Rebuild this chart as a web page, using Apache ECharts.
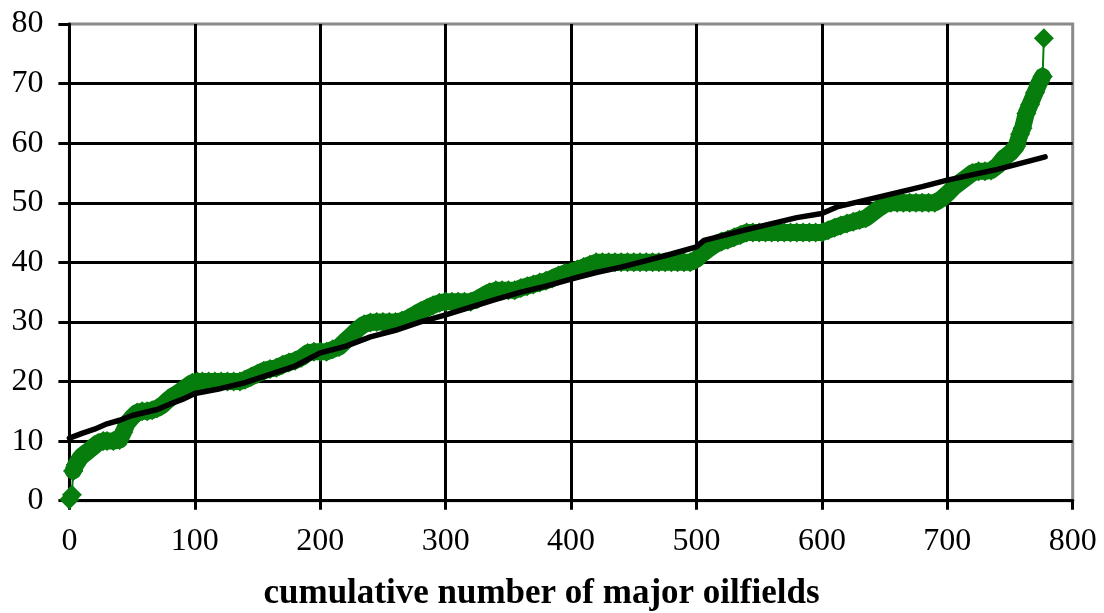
<!DOCTYPE html>
<html>
<head>
<meta charset="utf-8">
<script src="https://cdn.jsdelivr.net/npm/echarts@6/dist/echarts.min.js"></script>
<style>
html,body{margin:0;padding:0;background:#fff;}
#chart{width:1104px;height:613px;}
</style>
</head>
<body>
<div id="chart"></div>
<script>
// Sorted oilfield values (x = cumulative number of oilfields, y = value)
const fieldX = [0,2,3,5,8,10,13,16,20,23,27,30,35,40,43,46,50,54,58,62,66,70,74,78,82,86,90,94,98,102,
  106,111,116,121,126,131,136,140,145,150,155,160,165,170,175,180,185,190,195,200,205,210,215,220,225,230,235,240,
  245,250,255,260,265,270,275,280,285,290,295,300,305,310,315,320,325,330,335,340,345,350,355,360,365,370,375,380,
  385,390,395,400,405,410,415,420,425,430,435,440,445,450,455,460,465,470,475,480,485,490,495,500,505,510,515,520,
  525,530,535,540,545,550,555,560,565,570,575,580,585,590,595,600,605,610,615,620,625,630,635,640,645,650,655,660,
  665,670,675,680,685,690,695,700,705,710,715,720,725,730,735,740,745,750,755,758,760,763,766,770,773,776,777];
const fieldY = [0.2,1.0,5.0,6.0,7.0,7.5,8.0,8.5,9.2,9.7,10.0,10.0,10.0,10.2,11.5,13.0,14.0,14.8,15.0,15.0,15.2,15.5,16.0,16.8,17.5,18.0,18.6,19.2,19.8,20.0,
  20.0,20.0,20.0,20.0,20.0,20.0,20.0,20.3,20.8,21.3,21.8,22.1,22.3,22.8,23.2,23.5,24.0,24.8,25.0,25.0,25.0,25.4,25.8,26.8,27.8,28.8,29.6,29.9,
  30.0,30.0,30.0,30.0,30.2,30.6,31.2,31.8,32.3,32.8,33.2,33.4,33.4,33.4,33.4,33.4,33.8,34.4,35.0,35.3,35.3,35.3,35.3,35.7,36.0,36.3,36.6,36.9,
  37.3,37.8,38.2,38.4,38.8,39.2,39.6,40.0,40.0,40.0,40.0,40.0,40.0,40.0,40.0,40.0,40.0,40.0,40.0,40.0,40.0,40.0,40.0,40.5,41.5,42.3,43.0,43.5,
  43.8,44.2,44.6,45.0,45.0,45.0,45.0,45.0,45.0,45.0,45.0,45.0,45.0,45.0,45.0,45.0,45.4,45.8,46.2,46.5,46.8,47.1,47.4,48.2,49.0,49.7,50.0,50.0,
  50.0,50.0,50.0,50.0,50.0,50.0,50.6,51.5,52.6,53.4,54.2,55.0,55.3,55.3,55.4,56.2,57.5,58.3,59.5,61.5,62.5,65.0,66.5,68.5,70.0,71.2,77.6];

// Black trend line
const trendX = [0,10,20,30,40,50,60,70,80,90,100,120,140,160,180,200,220,240,260,280,300,320,340,360,380,400,420,440,460,480,500,506,540,560,580,600,612,650,680,700,740,778];
const trendY = [10.5,11.3,12.0,12.9,13.5,14.3,14.8,15.3,16.2,17.0,18.0,18.8,19.8,21.2,22.6,24.8,25.9,27.5,28.6,30.0,31.2,32.5,33.8,35.0,36.0,37.2,38.3,39.2,40.3,41.4,42.6,43.7,45.5,46.5,47.5,48.2,49.3,51.2,52.7,53.8,55.6,57.7];

const xTicks = [0,100,200,300,400,500,600,700,800];
const yTicks = [0,10,20,30,40,50,60,70,80];
const xTitle = 'cumulative number of major oilfields';

const green = '#067d0c';
const serif = '"Liberation Serif","Times New Roman",serif';

const pts = fieldX.map((x, i) => [x, fieldY[i]]);
const n = pts.length;
const headPts = pts.slice(0, 3);      // isolated first markers joined by a thin line
const bodyPts = pts.slice(2, n - 1);  // dense band
const tailPts = pts.slice(n - 2);     // last two markers joined by a thin line

function markerSeries(data, width) {
  return {
    type: 'line', data: data, showAllSymbol: true,
    symbol: 'diamond', symbolSize: 20,
    itemStyle: {color: green},
    lineStyle: {color: green, width: width, join: 'round', cap: 'round'},
    z: 2
  };
}

const chart = echarts.init(document.getElementById('chart'));
chart.setOption({
  animation: false,
  backgroundColor: '#ffffff',
  grid: {left: 69.4, right: 31.3, top: 24, bottom: 112.3, show: true,
         borderColor: '#8a8a8a', borderWidth: 3, backgroundColor: 'transparent'},
  xAxis: {
    type: 'value', min: xTicks[0], max: xTicks[xTicks.length-1], interval: 100,
    axisLine: {show: true, onZero: false, lineStyle: {color: '#000', width: 3}},
    axisTick: {show: true, length: 9, lineStyle: {color: '#000', width: 3}},
    splitLine: {show: true, showMaxLine: false, lineStyle: {color: '#000', width: 3}},
    axisLabel: {color: '#000', fontFamily: serif, fontSize: 32, margin: 25}
  },
  yAxis: {
    type: 'value', min: yTicks[0], max: yTicks[yTicks.length-1], interval: 10,
    axisLine: {show: true, onZero: false, lineStyle: {color: '#000', width: 3}},
    axisTick: {show: true, length: 11, lineStyle: {color: '#000', width: 3}},
    splitLine: {show: true, showMaxLine: false, lineStyle: {color: '#000', width: 3}},
    axisLabel: {color: '#000', fontFamily: serif, fontSize: 32, margin: 26}
  },
  graphic: [{
    type: 'text', x: 541.5, y: 594,
    style: {text: xTitle, fill: '#000', font: 'bold 35px ' + serif, textAlign: 'center', textVerticalAlign: 'middle'}
  }],
  series: [
    markerSeries(headPts, 2),
    markerSeries(bodyPts, 17),
    markerSeries(tailPts, 2),
    {
      type: 'line',
      data: trendX.map((x, i) => [x, trendY[i]]),
      showSymbol: false,
      lineStyle: {color: '#000', width: 5.5, cap: 'round', join: 'round'},
      z: 3
    }
  ]
});
</script>
</body>
</html>
